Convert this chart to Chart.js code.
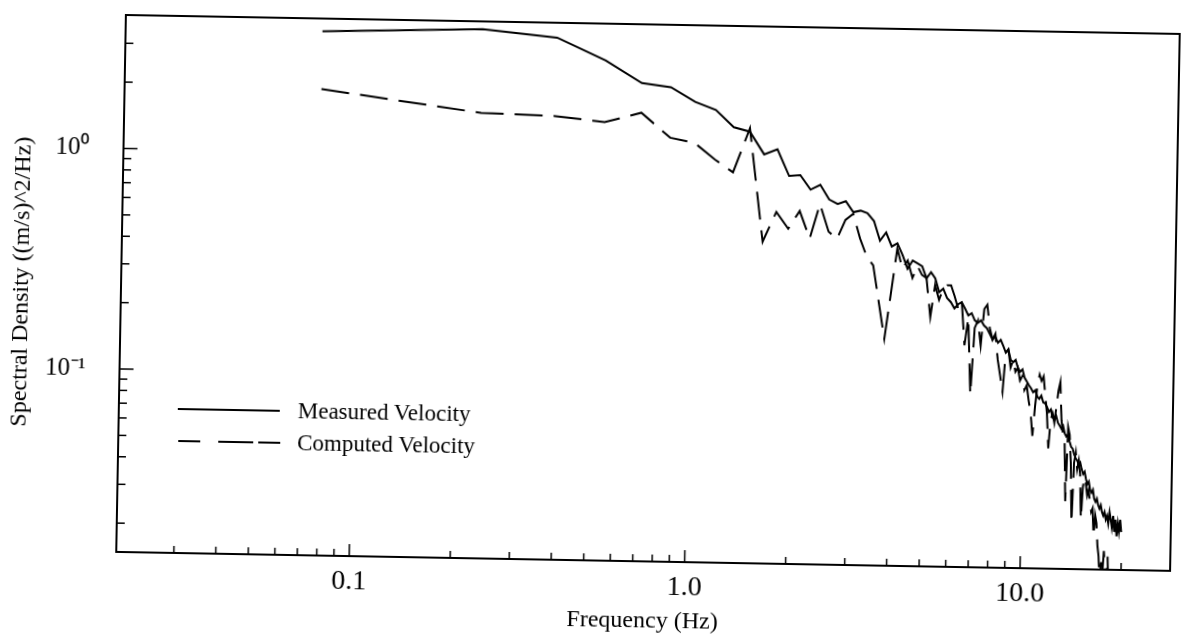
<!DOCTYPE html>
<html><head><meta charset="utf-8">
<script src="https://cdn.jsdelivr.net/npm/chart.js@4.4.1/dist/chart.umd.min.js"></script>
<style>
html,body{margin:0;padding:0;background:#fff;overflow:hidden;width:1183px;height:643px}
#wrap{position:absolute;left:0;top:0;width:1183px;height:643px;transform-origin:126px 9px;transform:rotate(1.03deg);}
#c{position:absolute;left:0;top:0}
#leg{position:absolute;left:0;top:0;width:1183px;height:643px;pointer-events:none}
.leg{position:absolute;font-family:"Liberation Serif","Times New Roman",serif;font-size:23px;color:#000;line-height:1;white-space:nowrap}
</style></head><body>
<div id="wrap">
<canvas id="c" width="1183" height="643"></canvas>
<svg id="leg" width="1183" height="643">
<line x1="185" y1="408" x2="287" y2="408" stroke="#000" stroke-width="2"/>
<line x1="186" y1="440" x2="208" y2="440" stroke="#000" stroke-width="2"/>
<line x1="226" y1="440" x2="261" y2="440" stroke="#000" stroke-width="2"/>
<line x1="266" y1="440" x2="288" y2="440" stroke="#000" stroke-width="2"/>
</svg>
<div class="leg" style="left:305px;top:396px">Measured Velocity</div>
<div class="leg" style="left:305px;top:428px">Computed Velocity</div>
</div>
<script>
const freqHz = [
0.078,0.234,0.391,0.547,0.703,0.859,1.016,1.172,1.328,1.484,
1.641,1.797,1.953,2.109,2.266,2.422,2.578,2.734,2.891,3.047,
3.203,3.359,3.516,3.672,3.828,3.984,4.141,4.297,4.453,4.609,
4.766,4.922,5.078,5.234,5.391,5.547,5.703,5.859,6.016,6.172,
6.328,6.484,6.641,6.797,6.953,7.109,7.266,7.422,7.578,7.734,
7.891,8.047,8.203,8.359,8.516,8.672,8.828,8.984,9.141,9.297,
9.453,9.609,9.766,9.922,10.078,10.234,10.391,10.547,10.703,10.859,
11.016,11.172,11.328,11.484,11.641,11.797,11.953,12.109,12.266,12.422,
12.578,12.734,12.891,13.047,13.203,13.359,13.516,13.672,13.828,13.984,
14.141,14.297,14.453,14.609,14.766,14.922,15.078,15.234,15.391,15.547,
15.703,15.859,16.016,16.172,16.328,16.484,16.641,16.797,16.953,17.109,
17.266,17.422,17.578,17.734,17.891,18.047,18.203,18.359,18.516,18.672,
18.828,18.984,19.141,19.297,19.453,19.609,19.766,19.922
];
const measured = [
3.53,3.72,3.45,2.74,2.18,2.10,1.81,1.67,1.40,1.34,
1.06,1.12,0.85,0.86,0.74,0.78,0.67,0.64,0.66,0.59,
0.60,0.585,0.54,0.44,0.48,0.415,0.43,0.38,0.33,0.36,
0.35,0.34,0.30,0.32,0.30,0.26,0.27,0.245,0.235,0.22,
0.23,0.235,0.22,0.205,0.21,0.195,0.19,0.195,0.185,0.18,
0.17,0.16,0.165,0.155,0.16,0.15,0.14,0.145,0.13,0.127,
0.13,0.12,0.115,0.118,0.108,0.104,0.10,0.097,0.093,0.095,
0.089,0.087,0.09,0.084,0.083,0.08,0.076,0.078,0.072,0.07,
0.073,0.068,0.066,0.064,0.066,0.061,0.059,0.060,0.056,0.053,
0.052,0.049,0.047,0.046,0.044,0.045,0.042,0.040,0.041,0.038,
0.036,0.037,0.034,0.033,0.034,0.031,0.030,0.031,0.029,0.028,
0.029,0.027,0.026,0.027,0.025,0.026,0.024,0.027,0.025,0.023,
0.026,0.022,0.025,0.021,0.024,0.022,0.025,0.022
];
const computed = [
1.93,1.55,1.52,1.44,1.60,1.24,1.18,0.995,0.874,1.39,
0.426,0.583,0.49,0.591,0.444,0.638,0.479,0.446,0.543,0.579,
0.448,0.372,0.34,0.23,0.158,0.255,0.407,0.33,0.36,0.30,
0.34,0.31,0.30,0.20,0.28,0.24,0.27,0.28,0.28,0.25,
0.22,0.24,0.15,0.20,0.09,0.18,0.195,0.15,0.22,0.23,
0.18,0.16,0.17,0.13,0.11,0.093,0.14,0.145,0.12,0.13,
0.115,0.12,0.105,0.11,0.095,0.10,0.085,0.075,0.059,0.08,
0.10,0.112,0.105,0.11,0.09,0.075,0.052,0.07,0.075,0.068,
0.08,0.095,0.104,0.07,0.06,0.058,0.030,0.065,0.06,0.045,
0.024,0.045,0.05,0.042,0.046,0.040,0.025,0.035,0.0385,0.036,
0.032,0.034,0.03,0.027,0.028,0.021,0.026,0.024,0.019,0.017,
0.013,0.016,0.014,0.018,0.015,0.013,0.017,0.012,0.012,0.011,
0.012,0.011,0.012,0.011,0.012,0.011,0.012,0.011
];
const xTickMarks = [0.03,0.04,0.05,0.06,0.07,0.08,0.09,0.1,0.2,0.3,0.4,0.5,0.6,0.7,0.8,0.9,1,2,3,4,5,6,7,8,9,10,20];
const xMajor = [0.1,1,10];
const yTickMarks = [0.02,0.03,0.04,0.05,0.06,0.07,0.08,0.09,0.1,0.2,0.3,0.4,0.5,0.6,0.7,0.8,0.9,1,2,3];
const yMajor = [0.1,1];
const xLabels = {"0.1":"0.1","1":"1.0","10":"10.0"};
const yLabels = {"1":"10\u2070","0.1":"10\u207B\u00B9"};
const seriesNames = ["Measured Velocity","Computed Velocity"];

function keyOf(v){ return String(parseFloat(v.toPrecision(6))); }

const frameTicks = {
  id: 'frameTicks',
  afterDraw(chart){
    const {ctx, chartArea:a, scales:{x, y}} = chart;
    ctx.save();
    ctx.strokeStyle = '#000';
    ctx.lineWidth = 1.5;
    xTickMarks.forEach(v => {
      const px = x.getPixelForValue(v);
      if (px < a.left + 2 || px > a.right - 2) return;
      const len = xMajor.includes(v) ? 12 : 7;
      ctx.beginPath(); ctx.moveTo(px, a.bottom); ctx.lineTo(px, a.bottom - len); ctx.stroke();
    });
    yTickMarks.forEach(v => {
      const py = y.getPixelForValue(v);
      if (py < a.top + 2 || py > a.bottom - 2) return;
      const len = yMajor.includes(v) ? 14 : 8;
      ctx.beginPath(); ctx.moveTo(a.left, py); ctx.lineTo(a.left + len, py); ctx.stroke();
    });
    ctx.lineWidth = 2;
    ctx.strokeRect(a.left, a.top, a.right - a.left, a.bottom - a.top);
    ctx.restore();
  }
};

const serif = "'Liberation Serif', 'Times New Roman', serif";
new Chart(document.getElementById('c'), {
  type: 'line',
  data: {
    datasets: [
      {label: seriesNames[0], data: freqHz.map((f,i)=>({x:f, y:measured[i]})),
       borderColor:'#000', borderWidth:2, pointRadius:0, tension:0, fill:false},
      {label: seriesNames[1], data: freqHz.map((f,i)=>({x:f, y:computed[i]})),
       borderColor:'#000', borderWidth:2, borderDash:[28,11], pointRadius:0, tension:0, fill:false}
    ]
  },
  options: {
    responsive:false, animation:false, devicePixelRatio:1,
    layout:{autoPadding:false, padding:{left:0, top:9, right:3, bottom:0}},
    plugins:{legend:{display:false}, tooltip:{enabled:false}},
    scales:{
      x:{type:'logarithmic', min:0.0202, max:28,
        grid:{display:false, drawTicks:true, tickLength:9}, border:{display:false},
        ticks:{autoSkip:false, maxRotation:0, minRotation:0, padding:0, color:'#000',
          font:{family:serif, size:28},
          callback:(v)=> xLabels[keyOf(v)] || null},
        title:{display:true, text:'Frequency (Hz)', color:'#000', font:{family:serif, size:24}, padding:{top:0, bottom:17}},
        afterFit(s){ s.height = 91; }
      },
      y:{type:'logarithmic', min:0.0148, max:4.03,
        grid:{display:false, drawTicks:true, tickLength:34}, border:{display:false},
        ticks:{autoSkip:false, padding:0, color:'#000',
          font:{family:serif, size:25},
          callback:(v)=> yLabels[keyOf(v)] || null},
        title:{display:true, text:'Spectral Density ((m/s)^2/Hz)', color:'#000', font:{family:serif, size:24}, padding:{top:12, bottom:0}},
        afterFit(s){ s.width = 126; }
      }
    }
  },
  plugins:[frameTicks]
});
</script>
</body></html>
